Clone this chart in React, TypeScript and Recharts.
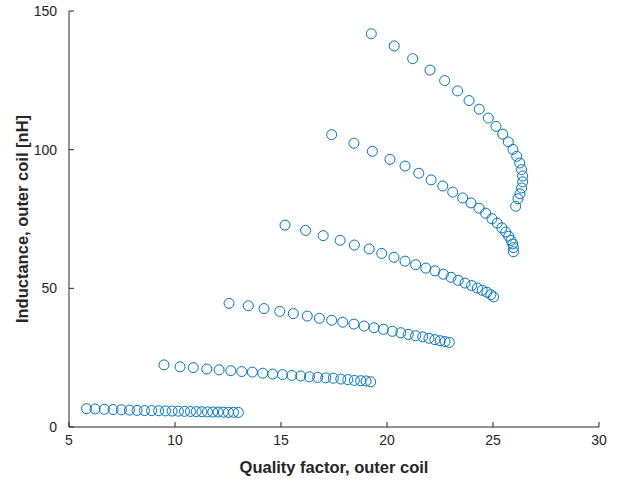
import { Label, Scatter, ScatterChart, XAxis, YAxis } from 'recharts'

// quality factor (x) and inductance in nH (y), one pair of arrays per sweep
const q1 = [5.83, 6.23, 6.67, 7.08, 7.47, 7.85, 8.21, 8.56, 8.9, 9.23, 9.55, 9.86, 10.16, 10.45, 10.73, 11.0, 11.27, 11.53, 11.78, 12.03, 12.28, 12.52, 12.76, 12.99]
const l1 = [6.6, 6.5, 6.4, 6.3, 6.2, 6.1, 6.0, 5.95, 5.9, 5.85, 5.8, 5.75, 5.7, 5.65, 5.6, 5.55, 5.5, 5.45, 5.4, 5.4, 5.35, 5.3, 5.3, 5.25]

const q2 = [9.48, 10.24, 10.86, 11.5, 12.08, 12.63, 13.15, 13.65, 14.14, 14.61, 15.07, 15.51, 15.93, 16.34, 16.73, 17.11, 17.47, 17.82, 18.15, 18.46, 18.76, 19.01, 19.23]
const l2 = [22.4, 21.7, 21.4, 20.9, 20.6, 20.3, 20.0, 19.8, 19.4, 19.1, 18.9, 18.6, 18.4, 18.1, 17.9, 17.7, 17.6, 17.3, 17.1, 16.8, 16.7, 16.6, 16.3]

const q3 = [12.55, 13.46, 14.2, 14.94, 15.58, 16.24, 16.81, 17.39, 17.91, 18.44, 18.92, 19.39, 19.83, 20.25, 20.65, 21.0, 21.35, 21.68, 21.98, 22.26, 22.51, 22.74, 22.94]
const l3 = [44.6, 43.7, 42.7, 41.7, 40.9, 40.0, 39.2, 38.5, 37.8, 37.1, 36.4, 35.8, 35.2, 34.5, 34.0, 33.4, 32.9, 32.5, 32.0, 31.5, 31.1, 30.8, 30.5]

const q4 = [15.19, 16.16, 16.99, 17.79, 18.46, 19.16, 19.75, 20.33, 20.85, 21.35, 21.83, 22.26, 22.66, 23.02, 23.36, 23.68, 23.99, 24.26, 24.49, 24.71, 24.9, 25.03]
const l4 = [72.8, 70.9, 69.0, 67.3, 65.6, 64.2, 62.6, 61.2, 59.8, 58.5, 57.3, 56.3, 55.1, 54.0, 52.9, 51.9, 51.0, 50.1, 49.3, 48.6, 47.7, 46.9]

const q5 = [17.39, 18.44, 19.31, 20.14, 20.85, 21.5, 22.08, 22.63, 23.1, 23.57, 23.96, 24.34, 24.65, 24.95, 25.2, 25.42, 25.6, 25.74, 25.85, 25.93, 25.96, 25.96]
const l5 = [105.4, 102.3, 99.4, 96.5, 94.1, 91.5, 89.1, 86.9, 84.7, 82.6, 80.8, 78.9, 77.1, 75.1, 73.5, 71.8, 70.3, 68.8, 67.3, 66.0, 64.7, 63.2]

const q6 = [19.26, 20.34, 21.21, 22.03, 22.72, 23.33, 23.87, 24.35, 24.78, 25.14, 25.46, 25.72, 25.94, 26.12, 26.26, 26.35, 26.4, 26.4, 26.35, 26.27, 26.18, 26.07]
const l6 = [141.8, 137.4, 132.8, 128.7, 124.9, 121.2, 117.7, 114.6, 111.4, 108.4, 105.6, 102.8, 100.1, 97.6, 95.2, 92.8, 90.5, 88.4, 86.2, 84.1, 82.3, 79.6]

const xTicks = [5, 10, 15, 20, 25, 30]
const yTicks = [0, 50, 100, 150]

const sweeps = [
  [q1, l1],
  [q2, l2],
  [q3, l3],
  [q4, l4],
  [q5, l5],
  [q6, l6],
]

const BLUE = '#0072BD'
const INK = '#262626'
const FONT = '"Liberation Sans", Arial, Helvetica, sans-serif'

const Ring = (props: any) => (
  <circle cx={props.cx} cy={props.cy} r={5} fill='none' stroke={BLUE} strokeWidth={1} />
)

export default function App() {
  const series = sweeps.map(([qs, ls]) => qs.map((q, i) => ({ q, l: ls[i] })))

  return (
    <div style={{ position: 'absolute', left: 0, top: 0, width: 619, height: 486, background: '#fff' }}>
      <ScatterChart
        width={619}
        height={486}
        margin={{ top: 11, right: 20, bottom: 14, left: 0 }}
        style={{ fontFamily: FONT }}
      >
        <XAxis
          type='number'
          dataKey='q'
          domain={[5, 30]}
          ticks={xTicks}
          allowDataOverflow
          height={45}
          tickSize={-5}
          tickMargin={13}
          stroke={INK}
          tick={{ fill: INK, fontSize: 14 }}
        >
          <Label
            content={({ viewBox }: any) => (
              <text
                x={viewBox.x + viewBox.width / 2}
                y={467}
                textAnchor='middle'
                dominantBaseline='central'
                fill={INK}
                fontSize={16.5}
                fontWeight='bold'
                fontFamily={FONT}
              >
                Quality factor, outer coil
              </text>
            )}
          />
        </XAxis>
        <YAxis
          type='number'
          dataKey='l'
          domain={[0, 150]}
          ticks={yTicks}
          allowDataOverflow
          width={69}
          tickSize={-5}
          tickMargin={17}
          stroke={INK}
          tick={{ fill: INK, fontSize: 14 }}
        >
          <Label
            content={({ viewBox }: any) => {
              const cy = viewBox.y + viewBox.height / 2
              return (
                <text
                  x={22}
                  y={cy}
                  transform={`rotate(-90 22 ${cy})`}
                  textAnchor='middle'
                  dominantBaseline='central'
                  fill={INK}
                  fontSize={16.5}
                  fontWeight='bold'
                  fontFamily={FONT}
                >
                  Inductance, outer coil [nH]
                </text>
              )
            }}
          />
        </YAxis>
        {series.map((pts, i) => (
          <Scatter key={i} data={pts} shape={Ring} isAnimationActive={false} />
        ))}
      </ScatterChart>
    </div>
  )
}
